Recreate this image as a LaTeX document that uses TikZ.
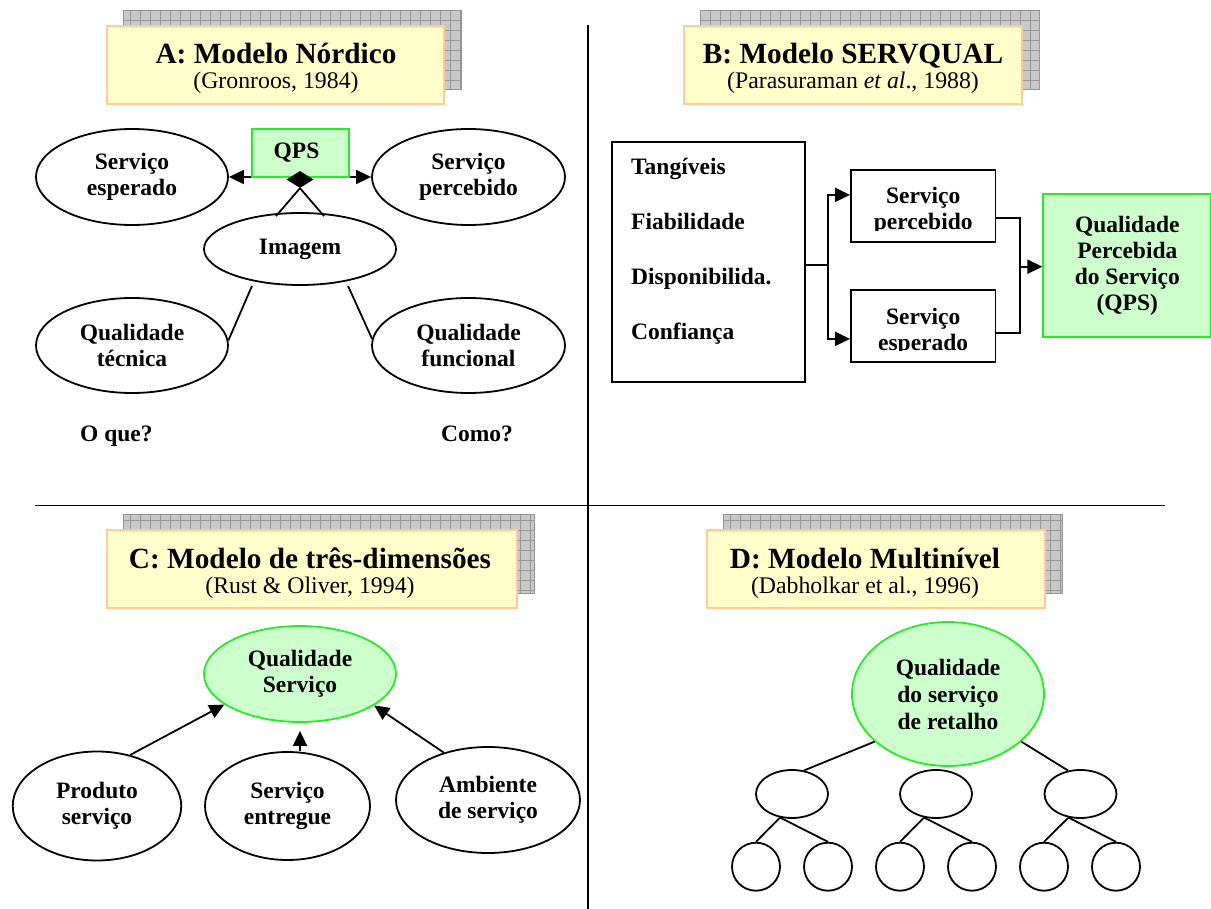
\documentclass[tikz,border=0pt]{standalone}
\usepackage{fontspec}
\setmainfont{Liberation Serif}
\usetikzlibrary{arrows.meta,shapes.geometric}

\definecolor{qline}{RGB}{40,235,40}
\definecolor{qfill}{RGB}{204,255,204}
\definecolor{cardfill}{RGB}{255,255,204}
\definecolor{cardline}{RGB}{255,204,153}
\definecolor{shadefill}{RGB}{200,200,200}
\definecolor{shadegrid}{RGB}{150,150,150}

\newcommand\lblfont{\fontsize{23.5}{26}\selectfont\bfseries}
\newcommand\ttlfont{\fontsize{29.3}{32}\selectfont\bfseries}
\newcommand\subttlfont{\fontsize{23.8}{26}\selectfont}

\tikzset{
  >={Triangle[length=15pt,width=14pt]},
  conn/.style={line width=1.8pt},
  divider/.style={line width=1.6pt},
  lbl/.style={align=center, inner sep=0pt, font=\lblfont},
  ell/.style={ellipse, draw, line width=1.8pt, inner sep=0pt, align=center, font=\lblfont},
  gell/.style={ell, draw=qline, fill=qfill},
  rectbox/.style={rectangle, draw, line width=1.8pt, inner sep=0pt},
  greenbox/.style={rectangle, draw=qline, fill=qfill, line width=1.8pt, inner sep=0pt, align=center, font=\lblfont},
  card/.style={rectangle, draw=cardline, fill=cardfill, line width=2pt, inner sep=0pt},
  leaf/.style={circle, draw, line width=1.8pt, inner sep=0pt, minimum size=48pt},
  mid/.style={ellipse, draw, line width=1.8pt, inner sep=0pt, minimum width=72pt, minimum height=48pt},
}

% title card with grid-patterned shadow
% #1 name, #2 left, #3 top, #4 right, #5 text centre x, #6 title, #7 reference
\newcommand\titlecard[7]{%
  \fill[shadefill] (#2+16,#3-16) rectangle (#4+17,#3+63);
  \draw[shadegrid, line width=0.8pt, step=10pt] (#2+16,#3-16) grid (#4+17,#3+63);
  \draw[shadegrid, line width=0.8pt] (#2+16,#3-16) rectangle (#4+17,#3+63);
  \node[card, minimum width={#4-#2}, minimum height=78pt] (#1) at ({(#2+#4)/2},{#3+39}) {};
  \node[anchor=base, inner sep=0pt, font=\ttlfont] (#1-title) at (#5,#3+38) {#6};
  \node[anchor=base, inner sep=0pt, font=\subttlfont] (#1-ref) at (#5,#3+63) {#7};
}

\begin{document}
\begin{tikzpicture}[x=1pt, y=-1pt]
\useasboundingbox (0,0) rectangle (1211,909);
\clip (0,0) rectangle (1211,909);

% quadrant dividers
\draw[divider] (588,25) -- (588,909);
\draw[divider] (35,505.5) -- (1165,505.5);

% ---------- A: Nordic model ----------
\titlecard{cardA}{107}{26}{444}{276}{A: Modelo Nórdico}{(Gronroos, 1984)}
\node[ell, minimum width=192pt, minimum height=96pt] (esp) at (132,177) {Serviço\\esperado};
\node[ell, minimum width=193pt, minimum height=96pt] (per) at (468.5,177) {Serviço\\percebido};
\draw[conn, <->] (esp.east) -- (per.west);
\node[greenbox, minimum width=97pt, minimum height=48pt] (qps) at (300.5,153) {QPS\kern8pt};
\node[ell, minimum width=192pt, minimum height=72pt] (img) at (300,249) {Imagem};
\node[diamond, fill, inner sep=0pt, minimum width=27pt, minimum height=17pt, aspect=1.6] (dia) at (300,179.5) {};
\draw[conn] ([xshift=-24pt,yshift=-4pt]img.north) -- (dia.south);
\draw[conn] ([xshift=24pt,yshift=-4pt]img.north) -- (dia.south);
\node[ell, minimum width=192pt, minimum height=95pt] (tec) at (132,345.5) {Qualidade\\técnica};
\node[ell, minimum width=193pt, minimum height=95pt] (fun) at (468.5,345.5) {Qualidade\\funcional};
\draw[conn] ([xshift=-48pt]img.south) -- (tec.3);
\draw[conn] ([xshift=48pt]img.south) -- (fun.176);
\node[lbl, anchor=base west] (what) at (80,442) {O que?};
\node[lbl, anchor=base west] (how) at (441,442) {Como?};

% ---------- B: SERVQUAL ----------
\titlecard{cardB}{684}{26}{1022}{853}{B: Modelo SERVQUAL}{(Parasuraman \textit{et al}., 1988)}
\node[rectbox, minimum width=193pt, minimum height=240pt] (dims) at (708.2,261.7) {};
\node[lbl, anchor=base west] (d1) at (631,175) {Tangíveis};
\node[lbl, anchor=base west] (d2) at (631,230) {Fiabilidade};
\node[lbl, anchor=base west] (d3) at (631,285) {Disponibilida.};
\node[lbl, anchor=base west] (d4) at (631,340) {Confiança};
\node[rectbox, minimum width=144.5pt, minimum height=71.7pt] (perc) at (923.2,205.9) {};
\node[rectbox, minimum width=144.5pt, minimum height=71.7pt] (espb) at (923.2,325.9) {};
\begin{scope}
  \clip (perc.north west) rectangle ([yshift=11.7pt]perc.south east);
  \node[lbl] (perc-text) at ([yshift=-5pt]perc.center) {Serviço\\percebido};
\end{scope}
\begin{scope}
  \clip (espb.north west) rectangle ([yshift=11.7pt]espb.south east);
  \node[lbl] (espb-text) at ([yshift=-6pt]espb.center) {Serviço\\esperado};
\end{scope}
\node[greenbox, minimum width=168pt, minimum height=143.3pt] (qpsb) at (1127.3,265.7)
  {Qualidade\\Percebida\\do Serviço\\(QPS)};
\coordinate (bj) at (828,265);
\coordinate (rj) at (1020,266.7);
\draw[conn] (dims.east |- bj) -- (bj);
\draw[conn, ->] (bj) |- ([yshift=11pt]perc.west);
\draw[conn, ->] (bj) |- ([yshift=-13pt]espb.west);
\draw[conn] ([yshift=-12pt]perc.east) -| (rj);
\draw[conn] ([yshift=-7.5pt]espb.east) -| (rj);
\draw[conn, ->] (rj) -- (qpsb.west |- rj);

% ---------- C: three-dimensional model ----------
\titlecard{cardC}{107}{530}{517}{310}{C: Modelo de três-dimensões}{(Rust \& Oliver, 1994)}
\node[gell, minimum width=192pt, minimum height=96pt] (qs) at (300,674) {Qualidade\\Serviço};
\node[ell, minimum width=168.5pt, minimum height=109pt] (prod) at (97,806) {Produto\\serviço};
\node[ell, minimum width=165pt, minimum height=108pt] (ent) at (287.5,806) {Serviço\\entregue};
\node[ell, minimum width=184pt, minimum height=106pt] (amb) at (488,800) {Ambiente\\de serviço};
\draw[conn, ->] (prod.57) -- (qs.202.5);
\draw[conn, ->] (qs.south |- ent.north) -- ([yshift=-8pt]qs.south);
\draw[conn, ->] (amb.133) -- (qs.337);

% ---------- D: multilevel model ----------
\titlecard{cardD}{707}{530}{1045}{865}{D: Modelo Multinível}{(Dabholkar et al., 1996)}
\node[gell, minimum width=192pt, minimum height=144pt, font=\fontsize{23.5}{27}\selectfont\bfseries] (root) at (948,694)
  {Qualidade\\do serviço\\de retalho};
\node[mid] (m1) at (792,794) {};
\node[mid] (m2) at (936,794) {};
\node[mid] (m3) at (1080.5,794) {};
\foreach \i/\x in {1/756,2/828,3/900,4/972,5/1044,6/1116}
  \node[leaf] (c\i) at (\x,866.7) {};
\draw[conn] (root.213.8) -- (m1.63);
\draw[conn] (root.327) -- (m3.118.7);
\draw[conn] (m1.243.4) -- (c1.north);
\draw[conn] (m1.243.4) -- (c2.north);
\draw[conn] (m2.243.4) -- (c3.north);
\draw[conn] (m2.243.4) -- (c4.north);
\draw[conn] (m3.243.4) -- (c5.north);
\draw[conn] (m3.243.4) -- (c6.north);
\end{tikzpicture}
\end{document}
